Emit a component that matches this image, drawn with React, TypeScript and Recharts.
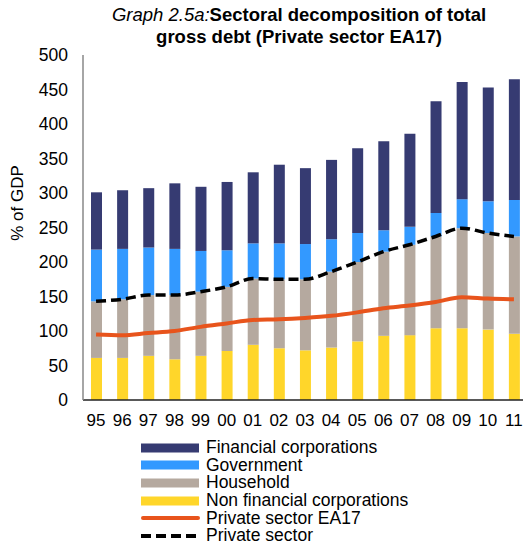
import React from 'react'
import { Bar, ComposedChart, Line, XAxis, YAxis } from 'recharts'

const years = ['95', '96', '97', '98', '99', '00', '01', '02', '03', '04', '05', '06', '07', '08', '09', '10', '11']
const nonFinancial = [61, 61, 64, 59, 64, 71, 80, 75, 72, 76, 85, 93, 94, 104, 104, 102, 96]
const household = [82, 85, 88, 93, 93, 93, 96, 100, 103, 110, 115, 122, 131, 133, 145, 140, 141]
const government = [75, 73, 69, 67, 59, 53, 51, 52, 51, 47, 42, 31, 26, 34, 42, 46, 53]
const financial = [83, 85, 86, 95, 93, 99, 103, 114, 110, 115, 123, 129, 135, 162, 170, 165, 175]
const privateEA17 = [95, 94, 97, 100, 106, 111, 116, 117, 119, 122, 127, 133, 137, 142, 149, 147, 146]
const privateSector = [143, 146, 152, 152, 157, 164, 176, 175, 175, 186, 200, 215, 225, 237, 249, 242, 237]
const yTicks = [0, 50, 100, 150, 200, 250, 300, 350, 400, 450, 500]

const data = years.map((y, i) => ({
  year: y,
  nfc: nonFinancial[i],
  hh: household[i],
  gov: government[i],
  fin: financial[i],
  ea17: privateEA17[i],
  priv: privateSector[i],
}))

const font = '"Liberation Sans", Arial, sans-serif'

const legendItems = [
  { name: 'Financial corporations', color: '#363B72', kind: 'bar' },
  { name: 'Government', color: '#3399FF', kind: 'bar' },
  { name: 'Household', color: '#B5A99F', kind: 'bar' },
  { name: 'Non financial corporations', color: '#FFD62A', kind: 'bar' },
  { name: 'Private sector EA17', color: '#E8541C', kind: 'line' },
  { name: 'Private sector', color: '#000', kind: 'dash' },
]

const App = () => {
  return (
    <div style={{ position: 'relative', width: 523, height: 547, fontFamily: font, overflow: 'hidden' }}>
      <style>{'body{margin:0}'}</style>
      <div
        style={{
          position: 'absolute',
          left: 49,
          top: 4,
          width: 500,
          textAlign: 'center',
          fontSize: 18.5,
          lineHeight: '22px',
          color: '#000',
        }}
      >
        <i>Graph 2.5a:</i>
        <b>Sectoral decomposition of total</b>
        <br />
        <b>gross debt (Private sector EA17)</b>
      </div>

      <div
        style={{
          position: 'absolute',
          left: 18 - 60,
          top: 203 - 10,
          width: 120,
          height: 20,
          lineHeight: '20px',
          textAlign: 'center',
          fontSize: 17,
          color: '#000',
          transform: 'rotate(-90deg)',
        }}
      >
        % of GDP
      </div>

      <ComposedChart
        width={527}
        height={547}
        data={data}
        margin={{ top: 55, right: 0, bottom: 117, left: 23 }}
        style={{ position: 'absolute', left: 0, top: 0 }}
      >
        <XAxis
          dataKey="year"
          tickLine={false}
          tickSize={0}
          tickMargin={14}
          axisLine={{ stroke: '#222', strokeWidth: 1.5 }}
          tick={{ fill: '#000', fontSize: 17, fontFamily: font }}
          interval={0}
        />
        <YAxis
          width={60}
          domain={[0, 500]}
          ticks={yTicks}
          tickLine={false}
          tickSize={0}
          tickMargin={15}
          axisLine={{ stroke: '#888', strokeWidth: 1.5 }}
          tick={{ fill: '#000', fontSize: 17.5, fontFamily: font }}
        />
        <Bar dataKey="nfc" stackId="a" fill="#FFD62A" barSize={11} isAnimationActive={false} />
        <Bar dataKey="hh" stackId="a" fill="#B5A99F" barSize={11} isAnimationActive={false} />
        <Bar dataKey="gov" stackId="a" fill="#3399FF" barSize={11} isAnimationActive={false} />
        <Bar dataKey="fin" stackId="a" fill="#363B72" barSize={11} isAnimationActive={false} />
        <Line
          type="monotone"
          dataKey="ea17"
          stroke="#E8541C"
          strokeWidth={4}
          dot={false}
          isAnimationActive={false}
        />
        <Line
          type="monotone"
          dataKey="priv"
          stroke="#000"
          strokeWidth={3.5}
          strokeDasharray="10 5"
          dot={false}
          isAnimationActive={false}
        />
      </ComposedChart>

      <div style={{ position: 'absolute', left: 141, top: 439, fontSize: 17.5, color: '#000' }}>
        {legendItems.map((it) => (
          <div key={it.name} style={{ display: 'flex', alignItems: 'center', height: 17.6 }}>
            <svg width={59} height={12} style={{ marginRight: 6, flexShrink: 0 }}>
              {it.kind === 'bar' && <rect x={0} y={1.5} width={58} height={9} fill={it.color} />}
              {it.kind === 'line' && <line x1={2} y1={6} x2={57} y2={6} stroke={it.color} strokeWidth={4} strokeLinecap="round" />}
              {it.kind === 'dash' && <line x1={0} y1={6} x2={58} y2={6} stroke={it.color} strokeWidth={4} strokeDasharray="10 5" />}
            </svg>
            <span
              style={{
                display: 'inline-block',
                height: 17,
                lineHeight: '17px',
                whiteSpace: 'nowrap',
              }}
            >
              {it.name}
            </span>
          </div>
        ))}
      </div>
    </div>
  )
}

export default App
